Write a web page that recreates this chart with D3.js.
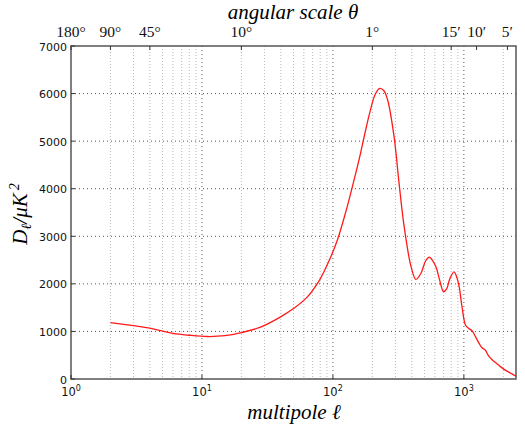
<!DOCTYPE html>
<html>
<head>
<meta charset="utf-8">
<script src="https://cdn.jsdelivr.net/npm/d3@7"></script>
<style>
  body { margin: 0; background: #fff; }
  svg { display: block; }
</style>
</head>
<body>
<svg id="chart" width="525" height="427"></svg>
<script>
// multipole values and power
const ells = [2, 3, 4, 6, 8, 11, 15, 20, 28, 39, 50, 63, 79, 94, 109, 125, 141, 158, 175, 192, 210, 228, 245, 262, 293, 320, 350, 395, 430, 470, 510, 545, 580, 612, 650, 700, 740, 780, 840, 880, 920, 970, 1030, 1090, 1150, 1220, 1300, 1380, 1450, 1550, 1650, 1770, 1900, 2100, 2300, 2500];
const power = [1185, 1120, 1070, 960, 920, 893, 910, 975, 1090, 1290, 1480, 1710, 2080, 2500, 2950, 3500, 4050, 4600, 5150, 5620, 5980, 6110, 6060, 5860, 5094, 4113, 3202, 2361, 2095, 2222, 2480, 2560, 2480, 2361, 2100, 1835, 1900, 2100, 2250, 2150, 1940, 1500, 1130, 1060, 1020, 900, 760, 650, 615, 480, 400, 330, 260, 175, 115, 60];

const yTicks = [0, 1000, 2000, 3000, 4000, 5000, 6000, 7000];
const xMajor = [1, 10, 100, 1000];
const topLabels = ["180\u00b0", "90\u00b0", "45\u00b0", "10\u00b0", "1\u00b0", "15\u2032", "10\u2032", "5\u2032"];
const topEll = [1, 2, 4, 20, 200, 800, 1250, 2150];

const svg = d3.select("#chart");
const plotL = 71, plotR = 516, plotT = 46, plotB = 379;

const x = d3.scaleLog().domain([1, 2500]).range([plotL, plotR]);
const y = d3.scaleLinear().domain([0, 7000]).range([plotB, plotT]);

svg.append("rect").attr("width", 525).attr("height", 427).attr("fill", "white");

// minor log grid
var minors = [];
for (let d = 1; d <= 1000; d *= 10) {
  for (let k = 2; k <= 9; k++) {
    if (k * d < 2500) minors.push(k * d);
  }
}
svg.append("g").selectAll("line").data(minors).join("line")
  .attr("x1", d => x(d)).attr("x2", d => x(d))
  .attr("y1", plotT).attr("y2", plotB)
  .attr("stroke", "#b8b8b8").attr("stroke-width", 1)
  .attr("stroke-dasharray", "1,2");

// major grid
svg.append("g").selectAll("line").data(xMajor.slice(1)).join("line")
  .attr("x1", d => x(d)).attr("x2", d => x(d))
  .attr("y1", plotT).attr("y2", plotB)
  .attr("stroke", "#555").attr("stroke-width", 1)
  .attr("stroke-dasharray", "1,3");
svg.append("g").selectAll("line").data(yTicks.slice(1, -1)).join("line")
  .attr("x1", plotL).attr("x2", plotR)
  .attr("y1", d => y(d)).attr("y2", d => y(d))
  .attr("stroke", "#555").attr("stroke-width", 1)
  .attr("stroke-dasharray", "1,3");

// the curve
const line = d3.line()
  .x((d, i) => x(ells[i]))
  .y(d => y(d))
  .curve(d3.curveCatmullRom.alpha(0.5));
svg.append("path")
  .datum(power)
  .attr("d", line)
  .attr("fill", "none")
  .attr("stroke", "#ff1a1a")
  .attr("stroke-width", 1.3);

// frame
svg.append("rect")
  .attr("x", plotL).attr("y", plotT)
  .attr("width", plotR - plotL).attr("height", plotB - plotT)
  .attr("fill", "none").attr("stroke", "#555").attr("stroke-width", 1.5);

// left ticks
svg.append("g").selectAll("line").data(yTicks).join("line")
  .attr("x1", plotL).attr("x2", plotL + 4)
  .attr("y1", d => y(d)).attr("y2", d => y(d))
  .attr("stroke", "#333");
svg.append("g").selectAll("text").data(yTicks).join("text")
  .attr("x", plotL - 4).attr("y", d => y(d) + 4.5)
  .attr("text-anchor", "end")
  .style("font-family", "DejaVu Sans")
  .style("font-size", "11px")
  .attr("fill", "#111")
  .text(d => d);

// bottom ticks
svg.append("g").selectAll("line").data(xMajor).join("line")
  .attr("x1", d => x(d)).attr("x2", d => x(d))
  .attr("y1", plotB).attr("y2", plotB - 4)
  .attr("stroke", "#333");
const bl = svg.append("g").selectAll("text").data(xMajor).join("text")
  .attr("x", d => x(d)).attr("y", 396)
  .attr("text-anchor", "middle")
  .style("font-family", "DejaVu Sans")
  .style("font-size", "11.5px")
  .attr("fill", "#111");
bl.append("tspan").text("10");
bl.append("tspan").attr("dy", -5).style("font-size", "8px").text(d => Math.round(Math.log10(d)));

// top ticks (angular scale)
svg.append("g").selectAll("line").data(topEll).join("line")
  .attr("x1", d => x(d)).attr("x2", d => x(d))
  .attr("y1", plotT).attr("y2", plotT + 4)
  .attr("stroke", "#333");
svg.append("g").selectAll("text").data(topEll).join("text")
  .attr("x", d => x(d)).attr("y", 37)
  .attr("text-anchor", "middle")
  .style("font-family", "Liberation Serif")
  .style("font-size", "15.5px")
  .attr("fill", "#111")
  .text((d, i) => topLabels[i]);

// axis titles
svg.append("text")
  .attr("x", 293).attr("y", 19)
  .attr("text-anchor", "middle")
  .style("font-family", "Liberation Serif")
  .style("font-style", "italic")
  .style("font-size", "21px")
  .text("angular scale \u03b8");

svg.append("text")
  .attr("x", 294).attr("y", 419)
  .attr("text-anchor", "middle")
  .style("font-family", "Liberation Serif")
  .style("font-style", "italic")
  .style("font-size", "21px")
  .text("multipole \u2113");

const yl = svg.append("text")
  .attr("transform", "translate(27,214) rotate(-90)")
  .attr("text-anchor", "middle")
  .style("font-family", "Liberation Serif")
  .style("font-style", "italic")
  .style("font-size", "21px");
yl.append("tspan").text("D");
yl.append("tspan").attr("dy", 4).style("font-size", "14px").text("\u2113");
yl.append("tspan").attr("dy", -4).text("/\u03bcK");
yl.append("tspan").attr("dx", 3).attr("dy", -8).style("font-size", "14px").text("2");
</script>
</body>
</html>
